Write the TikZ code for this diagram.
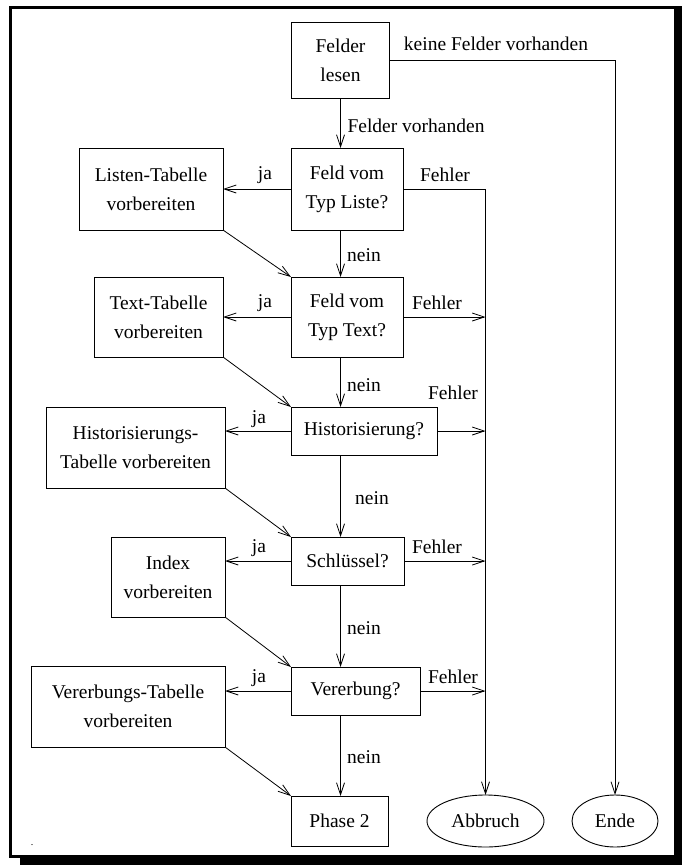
\documentclass[tikz,border=0pt]{standalone}
\usepackage{fontspec}
\setmainfont{Liberation Serif}
\usetikzlibrary{arrows.meta,shapes.geometric}
\begin{document}
\begin{tikzpicture}[x=1pt,y=-1pt,
  every node/.style={font=\fontsize{19.5}{29}\selectfont, inner sep=0pt, outer sep=0pt},
  box/.style={draw, line width=0.9pt, align=center},
  term/.style={draw, ellipse, line width=0.9pt, minimum height=52pt},
  flow/.style={line width=0.8pt, -{Straight Barb[length=12pt,width=8pt,line width=0.8pt]}},
  tiny/.style={font=\fontsize{10}{12}\selectfont}]

\useasboundingbox (0,0) rectangle (682,865);

% frame with drop shadow
\fill (675,6) rectangle (682,865);
\fill (20,856) rectangle (682,865);
\draw[line width=3pt] (10,7.5) rectangle (675,856);

% main column
\node[box, minimum width=98pt,  minimum height=76pt] (lesen)   at (340.5,60)  {Felder\\lesen};
\node[box, minimum width=112pt, minimum height=82pt] (liste)   at (347,189)   {Feld vom\\Typ Liste?};
\node[box, minimum width=112pt, minimum height=80pt] (text)    at (347,317)   {Feld vom\\Typ Text?};
\node[box, minimum width=146pt, minimum height=48pt] (hist)    at (364,431)   {Historisierung?};
\node[box, minimum width=113pt, minimum height=48pt] (key)     at (347.5,561) {Schlüssel?};
\node[box, minimum width=129pt, minimum height=48pt] (inherit) at (355.5,691) {Vererbung?};
\node[box, minimum width=97pt,  minimum height=50pt] (phase)   at (339.5,821) {Phase 2};

% preparation steps
\node[box, minimum width=144pt, minimum height=82pt] (listtab) at (151,189)   {Listen-Tabelle\\vorbereiten};
\node[box, minimum width=129pt, minimum height=80pt] (texttab) at (158.5,317) {Text-Tabelle\\vorbereiten};
\node[box, minimum width=179pt, minimum height=81pt] (histtab) at (135.5,447.5) {Historisierungs-\\Tabelle vorbereiten};
\node[box, minimum width=114pt, minimum height=80pt] (index)   at (168,577)   {Index\\vorbereiten};
\node[box, minimum width=194pt, minimum height=81pt] (inhtab)  at (128,706.5) {Vererbungs-Tabelle\\vorbereiten};

% terminals
\node[term, minimum width=117pt] (abort) at (485.5,821) {Abbruch};
\node[term, minimum width=86pt]  (stop)  at (615,821)   {Ende};

% connectors
\draw[flow] (lesen.south) -- (lesen.south |- liste.north);
\draw[flow] (lesen.east) -| (stop.north);
\draw[flow] (liste.east) -| (abort.north);

\draw[flow] (liste.west) -- (listtab.east);
\draw[flow] (liste.south -| lesen.south) -- (lesen.south |- text.north);
\draw[flow] (listtab.south east) -- (text.north west);

\draw[flow] (text.west) -- (text.west -| texttab.east);
\draw[flow] (text.east) -- (text.east -| abort.north);
\draw[flow] (text.south -| lesen.south) -- (lesen.south |- hist.north);
\draw[flow] (texttab.south east) -- (hist.north west);

\draw[flow] (hist.west) -- (hist.west -| histtab.east);
\draw[flow] (hist.east) -- (hist.east -| abort.north);
\draw[flow] (hist.south -| lesen.south) -- (lesen.south |- key.north);
\draw[flow] (histtab.south east) -- (key.north west);

\draw[flow] (key.west) -- (key.west -| index.east);
\draw[flow] (key.east) -- (key.east -| abort.north);
\draw[flow] (key.south -| lesen.south) -- (lesen.south |- inherit.north);
\draw[flow] (index.south east) -- (inherit.north west);

\draw[flow] (inherit.west) -- (inherit.west -| inhtab.east);
\draw[flow] (inherit.east) -- (inherit.east -| abort.north);
\draw[flow] (inherit.south -| lesen.south) -- (lesen.south |- phase.north);
\draw[flow] (inhtab.south east) -- (phase.north west);

% labels
\node (lnone) at (496,44)  {keine Felder vorhanden};
\node (lsome) at (416,126) {Felder vorhanden};

\node (ja1) at (265,175) {ja};
\node (ja2) at (265,303) {ja};
\node (ja3) at (259,419) {ja};
\node (ja4) at (259,548) {ja};
\node (ja5) at (259,678) {ja};

\node (err1) at (445,175) {Fehler};
\node (err2) at (437,303) {Fehler};
\node (err3) at (453,393) {Fehler};
\node (err4) at (437,547) {Fehler};
\node (err5) at (453,677) {Fehler};

\node (no1) at (364,255) {nein};
\node (no2) at (364,385) {nein};
\node (no3) at (372,498) {nein};
\node (no4) at (364,628) {nein};
\node (no5) at (364,757) {nein};

\node[tiny] (dot) at (32,845) {.};
\end{tikzpicture}
\end{document}
